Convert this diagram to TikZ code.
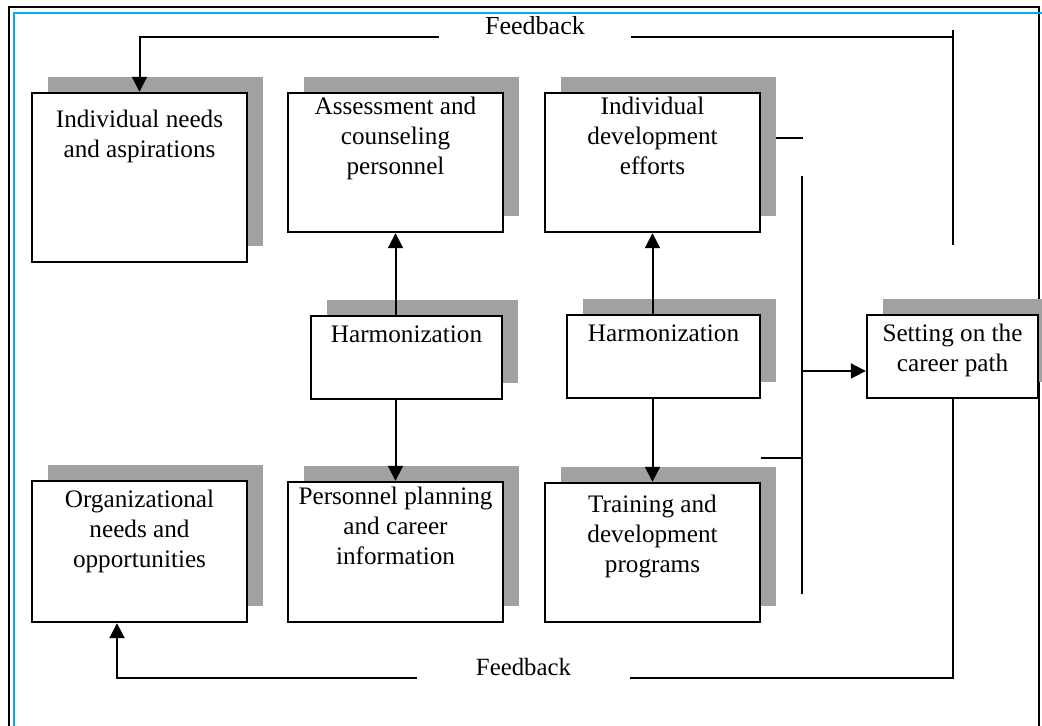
\documentclass[tikz,border=0pt]{standalone}
\usepackage{fontspec}
\setmainfont{Liberation Serif}
\usepackage{xcolor}
\usepackage{tikz}
\usetikzlibrary{positioning}
\usetikzlibrary{calc,arrows.meta,shadows}

\tikzset{
  careerbox/.style={draw, line width=1.2pt, fill=white, inner sep=0pt,
    minimum width=107.5pt, minimum height=69.5pt,
    drop shadow={shadow xshift=8pt, shadow yshift=8pt, fill=black!37, opacity=1}},
  boxtext/.style={anchor=north, align=center, inner sep=0pt, font=\fontsize{12.6}{15}\selectfont},
  fbtext/.style={anchor=base, inner xsep=23pt, inner ysep=0pt, font=\fontsize{13}{15}\selectfont},
  flow/.style={line width=1pt, -{Triangle[length=7.5pt,width=7.5pt]}},
  link/.style={line width=1pt},
}

\begin{document}
\begin{tikzpicture}[x=0.5pt, y=-0.5pt]
         \useasboundingbox (0,0) rectangle (1042,726);
         \draw[line width=1.1pt] (9,730) -- (9,7) -- (1039,7) -- (1039,730);
         \draw[cyan, line width=1.1pt] (14,730) -- (14,13) -- (1042,13);

         \node[careerbox, minimum height=84.5pt] (need)   at (139.5,177.5) {};
         \node[careerbox]                        (assess) at (395.5,162.5) {};
         \node[careerbox]                        (effort) at (652.5,162.5) {};
         \node[careerbox, minimum width=95.5pt, minimum height=41.5pt] (harm1) at (406.5,357.5) {};
         \node[careerbox, minimum width=96.5pt, minimum height=41.5pt] (harm2) at (663.5,356.5) {};
         \node[careerbox, minimum width=85.5pt, minimum height=41.5pt] (path)  at (952.5,356.5) {};
         \node[careerbox, minimum height=70.5pt] (org)    at (139.5,551.5) {};
         \node[careerbox, minimum height=70pt]   (plan)   at (395.5,552) {};
         \node[careerbox]                        (train)  at (652.5,552.5) {};

         \node[boxtext] at ([yshift=-9pt]need.north)   {Individual needs\\and aspirations};
         \node[boxtext] at ([yshift=-2.5pt]assess.north) {Assessment and\\counseling\\personnel};
         \node[boxtext] at ([yshift=-2.5pt]effort.north) {Individual\\development\\efforts};
         \node[boxtext] at ([yshift=-5.5pt]harm1.north) {Harmonization};
         \node[boxtext] at ([yshift=-5.5pt]harm2.north) {Harmonization};
         \node[boxtext] at ([yshift=-5pt]path.north)   {Setting on the\\career path};
         \node[boxtext] at ([yshift=-5pt]org.north)    {Organizational\\needs and\\opportunities};
         \node[boxtext] at ([yshift=-3pt]plan.north)   {Personnel planning\\and career\\information};
         \node[boxtext] at ([yshift=-6.5pt]train.north)  {Training and\\development\\programs};

         \node[fbtext] (fbtop) at (535,35) {Feedback};
         \node[fbtext, inner xsep=29.5pt, font=\fontsize{12.4}{15}\selectfont] (fbbot) at (523.5,675) {Feedback};

         \coordinate (fbTR)    at (953,37);
         \coordinate (riseT)   at (953,30);
         \coordinate (riseB)   at (953,245);
         \coordinate (effortL) at (776,138);
         \coordinate (effortR) at (803,138);
         \coordinate (mergeT)  at (802,176);
         \coordinate (mergeB)  at (802,594);

         \draw[flow] (fbtop.west |- fbTR) -| (need.north);
         \draw[link] (fbtop.east |- fbTR) -- (fbTR);
         \draw[link] (riseT) -- (riseB);

         \draw[flow] (harm1.north -| assess.south) -- (assess.south);
         \draw[flow] (harm1.south -| plan.north) -- (plan.north);
         \draw[flow] (harm2.north -| effort.south) -- (effort.south);
         \draw[flow] (harm2.south -| train.north) -- (train.north);

         \draw[link] (effortL) -- (effortR);
         \draw[link] (mergeT) -- (mergeB);
         \draw[link] (train.east |- 0,458) -- (mergeB |- 0,458);
         \draw[flow] (mergeT |- 0,371) -- (path.west |- 0,371);

         \draw[link] (path.south) |- (fbbot.east |- 0,678);
         \draw[flow] (fbbot.west |- 0,678) -| ([xshift=-11.25pt]org.south);
      \end{tikzpicture}
\end{document}
